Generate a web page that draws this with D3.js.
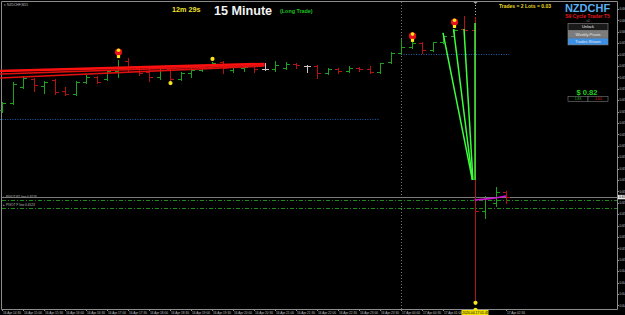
<!DOCTYPE html>
<html>
<head>
<meta charset="utf-8">
<script src="https://cdn.jsdelivr.net/npm/d3@7"></script>
<style>
  body { margin: 0; background: #000; overflow: hidden; }
  svg { display: block; font-family: "Liberation Sans", Arial, sans-serif; }
</style>
</head>
<body>
<script>
const width = 625;
const height = 315;

// NZDCHF M15 bars (open, high, low, close)
const opens  = [0.65657, 0.65688, 0.65758, 0.65793, 0.65762, 0.65789, 0.65740, 0.65727, 0.65780, 0.65802,
                0.65793, 0.65828, 0.65872, 0.65841, 0.65824, 0.65802, 0.65837, 0.65793, 0.65819, 0.65832,
                0.65846, 0.65868, 0.65832, 0.65841, 0.65850, 0.65837, 0.65837, 0.65841, 0.65859, 0.65850,
                0.65850, 0.65819, 0.65837, 0.65828, 0.65841, 0.65837, 0.65824, 0.65868, 0.65907, 0.65933,
                0.65951, 0.65920, 0.65955, 0.65982, 0.66012, 0.66008, 0.65214, 0.65249, 0.65297];
const highs  = [0.65692, 0.65780, 0.65806, 0.65797, 0.65784, 0.65793, 0.65758, 0.65784, 0.65811, 0.65806,
                0.65832, 0.65876, 0.65885, 0.65846, 0.65841, 0.65850, 0.65841, 0.65824, 0.65846, 0.65850,
                0.65868, 0.65872, 0.65854, 0.65854, 0.65854, 0.65863, 0.65872, 0.65868, 0.65863, 0.65854,
                0.65854, 0.65841, 0.65841, 0.65850, 0.65846, 0.65850, 0.65863, 0.65911, 0.65968, 0.65964,
                0.65955, 0.65955, 0.65990, 0.66012, 0.66069, 0.66065, 0.65280, 0.65319, 0.65301];
const lows   = [0.65648, 0.65683, 0.65754, 0.65740, 0.65732, 0.65727, 0.65723, 0.65723, 0.65775, 0.65775,
                0.65789, 0.65802, 0.65824, 0.65811, 0.65784, 0.65793, 0.65780, 0.65789, 0.65802, 0.65828,
                0.65841, 0.65819, 0.65824, 0.65828, 0.65824, 0.65832, 0.65828, 0.65837, 0.65841, 0.65824,
                0.65797, 0.65815, 0.65819, 0.65824, 0.65828, 0.65819, 0.65819, 0.65863, 0.65903, 0.65929,
                0.65907, 0.65916, 0.65951, 0.65977, 0.65982, 0.64824, 0.65183, 0.65236, 0.65249];
const closes = [0.65688, 0.65771, 0.65797, 0.65767, 0.65780, 0.65736, 0.65727, 0.65780, 0.65802, 0.65780,
                0.65828, 0.65846, 0.65837, 0.65819, 0.65802, 0.65832, 0.65793, 0.65819, 0.65832, 0.65846,
                0.65863, 0.65841, 0.65846, 0.65846, 0.65837, 0.65837, 0.65854, 0.65859, 0.65854, 0.65850,
                0.65819, 0.65837, 0.65828, 0.65841, 0.65837, 0.65824, 0.65863, 0.65907, 0.65933, 0.65951,
                0.65920, 0.65955, 0.65982, 0.66008, 0.66008, 0.65214, 0.65271, 0.65297, 0.65275];

// time axis labels, one every two bars
const timeTicks = ["16 Apr 14:30", "16 Apr 15:00", "16 Apr 15:30", "16 Apr 16:00", "16 Apr 16:30",
                   "16 Apr 17:00", "16 Apr 17:30", "16 Apr 18:00", "16 Apr 18:30", "16 Apr 19:00",
                   "16 Apr 19:30", "16 Apr 20:00", "16 Apr 20:30", "16 Apr 21:00", "16 Apr 21:30",
                   "16 Apr 22:00", "16 Apr 22:30", "16 Apr 23:00", "16 Apr 23:30", "17 Apr 00:00",
                   "17 Apr 00:30", "17 Apr 01:00", "17 Apr 01:30", "17 Apr 02:00", "17 Apr 02:30"];
const priceTicks = [0.6610, 0.6605, 0.6600, 0.6595, 0.6590, 0.6585, 0.6580, 0.6575, 0.6570, 0.6565,
                    0.6560, 0.6555, 0.6550, 0.6545, 0.6540, 0.6535, 0.6530, 0.6525, 0.6520, 0.6515,
                    0.6510, 0.6505, 0.6500, 0.6495, 0.6490, 0.6485, 0.6480];

// red trend lines (bar index, price)
const trendFromBar = [-0.2, -0.2, -0.2];
const trendFromPrice = [0.65828, 0.65815, 0.65797];
const trendToBar = [25, 25, 25];
const trendToPrice = [0.65859, 0.65854, 0.65850];

// trade lines
const tradeFromBar = [42, 43, 44, 45.05];
const tradeFromPrice = [0.65995, 0.66012, 0.66012, 0.66039];
const tradeToBar = [44.8, 44.8, 44.85, 45.05];
const tradeToPrice = [0.65350, 0.65350, 0.65350, 0.65350];

// trade entry markers and yellow dots
const markerBars = [11, 39, 43];
const markerPrices = [0.65911, 0.65982, 0.66043];
const dotBars = [16, 20, 45, 45];
const dotPrices = [0.65775, 0.65881, 0.64811, 0.64780];

// short magenta average after the gap
const maBars = [45, 46, 47, 48];
const maPrices = [0.65262, 0.65266, 0.65271, 0.65280];

const pivotPrices = [0.65262, 0.65227];
const pivotNames = ["PIVOT R1 line 0.6526", "PIVOT P line 0.6523"];
const blueFromBar = [-0.2, 38];
const blueToBar = [36, 48.3];
const bluePrices = [0.65618, 0.65903];
const currentPrice = 0.65275;
const selectedBar = 45;

const plotRight = 617;
const plotBottom = 309;

const x = d3.scaleLinear().domain([0, 48]).range([2, 506]);
const y = d3.scaleLinear().domain([0.64784, 0.66100]).range([309, 9]);
// pixel-snapped helpers so 1px strokes stay crisp
const px = i => Math.round(x(i)) + 0.5;
const py = v => Math.round(y(v)) + 0.5;

const bars = opens.map((o, i) => ({ i, o, h: highs[i], l: lows[i], c: closes[i] }));

const svg = d3.select('body')
  .append('svg')
  .attr('width', width)
  .attr('height', height);

svg.append('rect').attr('width', width).attr('height', height).attr('fill', '#000');

// frame
svg.append('path')
  .attr('d', `M1.5,${plotBottom + 0.5} V1.5 H${plotRight + 0.5} V${plotBottom + 0.5} Z`)
  .attr('fill', 'none')
  .attr('stroke', '#8c8c8c')
  .attr('stroke-width', 1);

// day separator
svg.append('line')
  .attr('x1', px(38)).attr('x2', px(38))
  .attr('y1', 2).attr('y2', plotBottom)
  .attr('stroke', '#777').attr('stroke-dasharray', '1,2');

// crosshair above the selected bar
svg.append('line')
  .attr('x1', px(selectedBar)).attr('x2', px(selectedBar))
  .attr('y1', 2).attr('y2', Math.round(y(highs[selectedBar])))
  .attr('stroke', '#bbb').attr('stroke-dasharray', '1,2');
svg.append('path')
  .attr('d', `M${px(selectedBar) - 2},2 H${px(selectedBar) + 2} L${px(selectedBar)},4 Z`)
  .attr('fill', '#aaa');

// blue dotted levels
svg.selectAll('.blue')
  .data(bluePrices)
  .join('line')
    .attr('x1', (d, i) => x(blueFromBar[i]))
    .attr('x2', (d, i) => x(blueToBar[i]))
    .attr('y1', d => py(d))
    .attr('y2', d => py(d))
    .attr('stroke', '#1f5fae')
    .attr('stroke-dasharray', '1,1.5');

// pivot lines
svg.selectAll('.pivot')
  .data(pivotPrices)
  .join('line')
    .attr('x1', 2).attr('x2', plotRight)
    .attr('y1', d => py(d))
    .attr('y2', d => py(d))
    .attr('stroke', '#1a8a1a')
    .attr('stroke-dasharray', '4,2,1,2');
svg.selectAll('.pivotLabel')
  .data(pivotPrices)
  .join('text')
    .attr('x', 3).attr('y', d => Math.round(y(d)) - 2)
    .attr('fill', '#bfbfbf').attr('font-size', 3.2)
    .text((d, i) => '\u25B8 ' + pivotNames[i]);

// current price line
svg.append('line')
  .attr('x1', 2).attr('x2', plotRight)
  .attr('y1', py(currentPrice))
  .attr('y2', py(currentPrice))
  .attr('stroke', '#7a7a7a');

// OHLC bars
const barColor = d => d.c > d.o ? '#1fa01f' : (d.c < d.o ? '#b01414' : '#c8c8c8');
const barG = svg.append('g');
barG.selectAll('.wick')
  .data(bars)
  .join('line')
    .attr('x1', d => px(d.i)).attr('x2', d => px(d.i))
    .attr('y1', d => Math.round(y(d.h))).attr('y2', d => Math.round(y(d.l)) + 1)
    .attr('stroke', barColor).attr('stroke-width', 1);
barG.selectAll('.open')
  .data(bars)
  .join('line')
    .attr('x1', d => px(d.i) - 3.5).attr('x2', d => px(d.i))
    .attr('y1', d => py(d.o)).attr('y2', d => py(d.o))
    .attr('stroke', barColor);
barG.selectAll('.close')
  .data(bars)
  .join('line')
    .attr('x1', d => px(d.i)).attr('x2', d => px(d.i) + 3.5)
    .attr('y1', d => py(d.c)).attr('y2', d => py(d.c))
    .attr('stroke', barColor);

// red trend lines
svg.selectAll('.trend')
  .data(trendFromPrice)
  .join('line')
    .attr('x1', (d, i) => x(trendFromBar[i]))
    .attr('y1', d => y(d))
    .attr('x2', (d, i) => x(trendToBar[i]))
    .attr('y2', (d, i) => y(trendToPrice[i]))
    .attr('stroke', (d, i) => i === 0 ? '#ff1010' : '#e01010')
    .attr('stroke-width', (d, i) => i === 0 ? 2.6 : 1.6);

// magenta average
svg.append('path')
  .datum(maPrices)
  .attr('d', d3.line().x((d, i) => x(maBars[i])).y(d => y(d)))
  .attr('fill', 'none')
  .attr('stroke', '#d010d0')
  .attr('stroke-width', 1.6);

// trade lines
svg.selectAll('.trade')
  .data(tradeFromPrice)
  .join('line')
    .attr('x1', (d, i) => x(tradeFromBar[i]))
    .attr('y1', d => y(d))
    .attr('x2', (d, i) => x(tradeToBar[i]))
    .attr('y2', (d, i) => y(tradeToPrice[i]))
    .attr('stroke', '#3cff3c')
    .attr('stroke-width', 1.5);

// entry markers
const mk = svg.selectAll('.marker')
  .data(markerPrices)
  .join('g')
    .attr('transform', (d, i) => `translate(${px(markerBars[i])},${y(d)})`);
mk.append('circle').attr('r', 3.6).attr('fill', '#e8101a');
mk.append('circle').attr('cy', -1.8).attr('r', 1.8).attr('fill', '#ffe81a');
mk.append('rect').attr('x', -1.6).attr('y', 3).attr('width', 3.2).attr('height', 3).attr('fill', '#ffe81a');

// yellow dots
svg.selectAll('.dot')
  .data(dotPrices)
  .join('circle')
    .attr('cx', (d, i) => px(dotBars[i]))
    .attr('cy', d => y(d))
    .attr('r', 2.1)
    .attr('fill', '#f5e51a');

// right price axis
svg.selectAll('.ptick')
  .data(priceTicks)
  .join('line')
    .attr('x1', plotRight).attr('x2', plotRight + 2)
    .attr('y1', d => py(d)).attr('y2', d => py(d))
    .attr('stroke', '#8c8c8c');
svg.selectAll('.plabel')
  .data(priceTicks)
  .join('text')
    .attr('x', plotRight + 2.5).attr('y', d => y(d) + 1.2)
    .attr('fill', '#c0c0c0').attr('font-size', 3.4)
    .text(d => d.toFixed(5));
svg.append('rect')
  .attr('x', plotRight + 1).attr('y', y(currentPrice) - 2.2)
  .attr('width', 9).attr('height', 4.4).attr('fill', '#e6e6e6');
svg.append('text')
  .attr('x', plotRight + 2).attr('y', y(currentPrice) + 1.2)
  .attr('fill', '#000').attr('font-size', 3.4)
  .text(currentPrice.toFixed(5));

// bottom time axis (labels under the highlighted time are hidden by it)
const hlLeft = px(selectedBar) - 14;
const hlRight = hlLeft + 27;
const tickData = timeTicks.map((t, i) => ({ t, bar: i * 2 }));
svg.selectAll('.ttick')
  .data(tickData)
  .join('line')
    .attr('x1', d => px(d.bar)).attr('x2', d => px(d.bar))
    .attr('y1', plotBottom).attr('y2', plotBottom + 2)
    .attr('stroke', '#8c8c8c');
svg.selectAll('.tlabel')
  .data(tickData.filter(d => x(d.bar) + 1 < hlLeft - 15 || x(d.bar) + 1 > hlRight))
  .join('text')
    .attr('x', d => x(d.bar) + 1).attr('y', 313.5)
    .attr('fill', '#c0c0c0').attr('font-size', 3.2)
    .text(d => d.t);
svg.append('rect')
  .attr('x', hlLeft).attr('y', 310).attr('width', 27).attr('height', 5)
  .attr('fill', '#f0e000');
svg.append('text')
  .attr('x', px(selectedBar)).attr('y', 313.8).attr('text-anchor', 'middle')
  .attr('fill', '#000').attr('font-size', 3.4)
  .text('2020.04.17 01:45');

// header texts
svg.append('text').attr('x', 4).attr('y', 5.5)
  .attr('fill', '#bfbfbf').attr('font-size', 3.4).text('\u25BE NZDCHF,M15');
svg.append('text').attr('x', 172).attr('y', 12)
  .attr('fill', '#f2e22a').attr('font-size', 7.2).attr('font-weight', 'bold').text('12m 29s');
svg.append('text').attr('x', 214).attr('y', 15)
  .attr('fill', '#f2f2f2').attr('font-size', 12.6).attr('font-weight', 'bold').text('15 Minute');
svg.append('text').attr('x', 280).attr('y', 12.5)
  .attr('fill', '#1fc01f').attr('font-size', 5.4).attr('font-weight', 'bold').text('(Long Trade)');
svg.append('text').attr('x', 499).attr('y', 8)
  .attr('fill', '#e8d820').attr('font-size', 5).attr('font-weight', 'bold').text('Trades = 2  Lots = 0.03');

// panel on the right
svg.append('text').attr('x', 587.5).attr('y', 12).attr('text-anchor', 'middle')
  .attr('fill', '#5aaef0').attr('font-size', 11).attr('font-weight', 'bold').text('NZDCHF');
svg.append('text').attr('x', 587.5).attr('y', 17.5).attr('text-anchor', 'middle')
  .attr('fill', '#e01818').attr('font-size', 5).attr('font-weight', 'bold').text('S9 Cycle Trader T5');
svg.append('text').attr('x', 588).attr('y', 22).attr('text-anchor', 'middle')
  .attr('fill', '#9a9a9a').attr('font-size', 3).text('- v2 -');

const buttons = ['Unlock', 'Weekly Pivots', 'Trades Shown'];
const btnFill = ['#1a1a1a', '#7c7c7c', '#3a8fe6'];
const btn = svg.selectAll('.btn')
  .data(buttons)
  .join('g')
    .attr('transform', (d, i) => `translate(568,${23.5 + i * 7.3})`);
btn.append('rect')
  .attr('width', 40).attr('height', 6.8)
  .attr('fill', (d, i) => btnFill[i])
  .attr('stroke', '#8a8a8a').attr('stroke-width', 0.6);
btn.append('text')
  .attr('x', 20).attr('y', 4.8).attr('text-anchor', 'middle')
  .attr('fill', '#e8e8e8').attr('font-size', 4)
  .text(d => d);

svg.append('text').attr('x', 587).attr('y', 94.5).attr('text-anchor', 'middle')
  .attr('fill', '#20d020').attr('font-size', 7.6).attr('font-weight', 'bold').text('$  0.82');
const pl = ['1.83', '-1.01'];
const plColor = ['#20c020', '#e02020'];
const plG = svg.selectAll('.pl')
  .data(pl)
  .join('g')
    .attr('transform', (d, i) => `translate(${568 + i * 20},96.5)`);
plG.append('rect')
  .attr('width', 20).attr('height', 5)
  .attr('fill', '#000').attr('stroke', '#7a7a7a').attr('stroke-width', 0.6);
plG.append('text')
  .attr('x', 10).attr('y', 3.8).attr('text-anchor', 'middle')
  .attr('fill', (d, i) => plColor[i]).attr('font-size', 3.4)
  .text(d => d);
</script>
</body>
</html>
